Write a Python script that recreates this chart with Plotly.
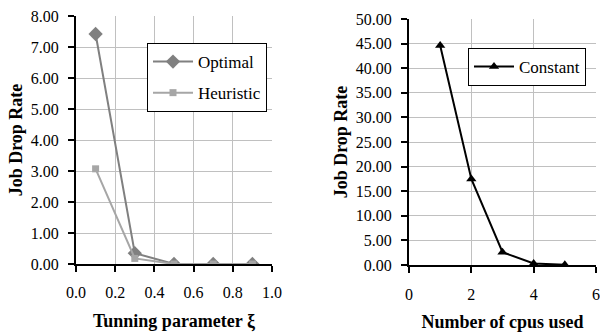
import plotly.graph_objects as go

xi = [0.1, 0.3, 0.5, 0.7, 0.9]
optimal = [7.42, 0.35, 0.0, 0.0, 0.0]
heuristic = [3.07, 0.18, 0.0, 0.0, 0.0]

cpus = [1, 2, 3, 4, 5]
constant = [44.6, 17.5, 2.6, 0.3, 0.05]

font_family = "Liberation Serif, Times New Roman, serif"

fig = go.Figure()
fig.add_trace(go.Scatter(x=xi, y=optimal, name="Optimal", mode="lines+markers",
                         line=dict(color="#808080", width=2),
                         marker=dict(symbol="diamond", size=11, color="#808080"),
                         xaxis="x", yaxis="y", legend="legend", legendgroup="a"))
fig.add_trace(go.Scatter(x=xi, y=heuristic, name="Heuristic", mode="lines+markers",
                         line=dict(color="#a6a6a6", width=2),
                         marker=dict(symbol="square", size=7, color="#a6a6a6"),
                         xaxis="x", yaxis="y", legend="legend", legendgroup="b"))
fig.add_trace(go.Scatter(x=cpus, y=constant, name="Constant", mode="lines+markers",
                         line=dict(color="black", width=2),
                         marker=dict(symbol="triangle-up", size=9, color="black"),
                         xaxis="x2", yaxis="y2", legend="legend2"))

axis_common = dict(showline=True, linecolor="black", linewidth=2, ticks="outside",
                   ticklen=6, tickwidth=2, tickcolor="black", showgrid=True,
                   gridcolor="#c0c0c0", gridwidth=1, zeroline=False, automargin=False,
                   tickfont=dict(family=font_family, size=16, color="black"))

title_font = dict(family=font_family, size=18, color="black")

fig.update_layout(
    width=600, height=332, margin=dict(l=0, r=0, t=0, b=0),
    plot_bgcolor="white", paper_bgcolor="white",
    font=dict(family=font_family, color="black", size=16),
    xaxis=dict(domain=[76/600, 272/600], range=[0, 1.0], dtick=0.2, tickformat=".1f",
               ticklabelstandoff=7,
               title=dict(text="<b>Tunning parameter ξ</b>", font=title_font, standoff=16),
               anchor="y", **axis_common),
    yaxis=dict(domain=[(332-264)/332, (332-16)/332], range=[0, 8], dtick=1, tickformat=".2f",
               ticklabelstandoff=6,
               title=dict(text="<b>Job Drop Rate</b>", font=title_font, standoff=3),
               anchor="x", **axis_common),
    xaxis2=dict(domain=[409/600, 596/600], range=[0, 6], dtick=2,
                ticklabelstandoff=8,
                title=dict(text="<b>Number of cpus used</b>", font=title_font, standoff=18),
                anchor="y2", **axis_common),
    yaxis2=dict(domain=[(332-265)/332, (332-19)/332], range=[0, 50], dtick=5, tickformat=".2f",
                ticklabelstandoff=6,
                title=dict(text="<b>Job Drop Rate</b>", font=title_font, standoff=3),
                anchor="x2", **axis_common),
    legend=dict(x=147/600, y=(332-43)/332, xanchor="left", yanchor="top",
                bordercolor="black", borderwidth=1, bgcolor="white", itemwidth=40,
                font=dict(family=font_family, size=17, color="black"), tracegroupgap=6),
    legend2=dict(x=468/600, y=(332-48)/332, xanchor="left", yanchor="top",
                 bordercolor="black", borderwidth=1, bgcolor="white", itemwidth=40,
                 font=dict(family=font_family, size=17, color="black")),
)

fig.write_html("out.html", config={"displayModeBar": False},
               post_script="document.body.style.margin='0';")
